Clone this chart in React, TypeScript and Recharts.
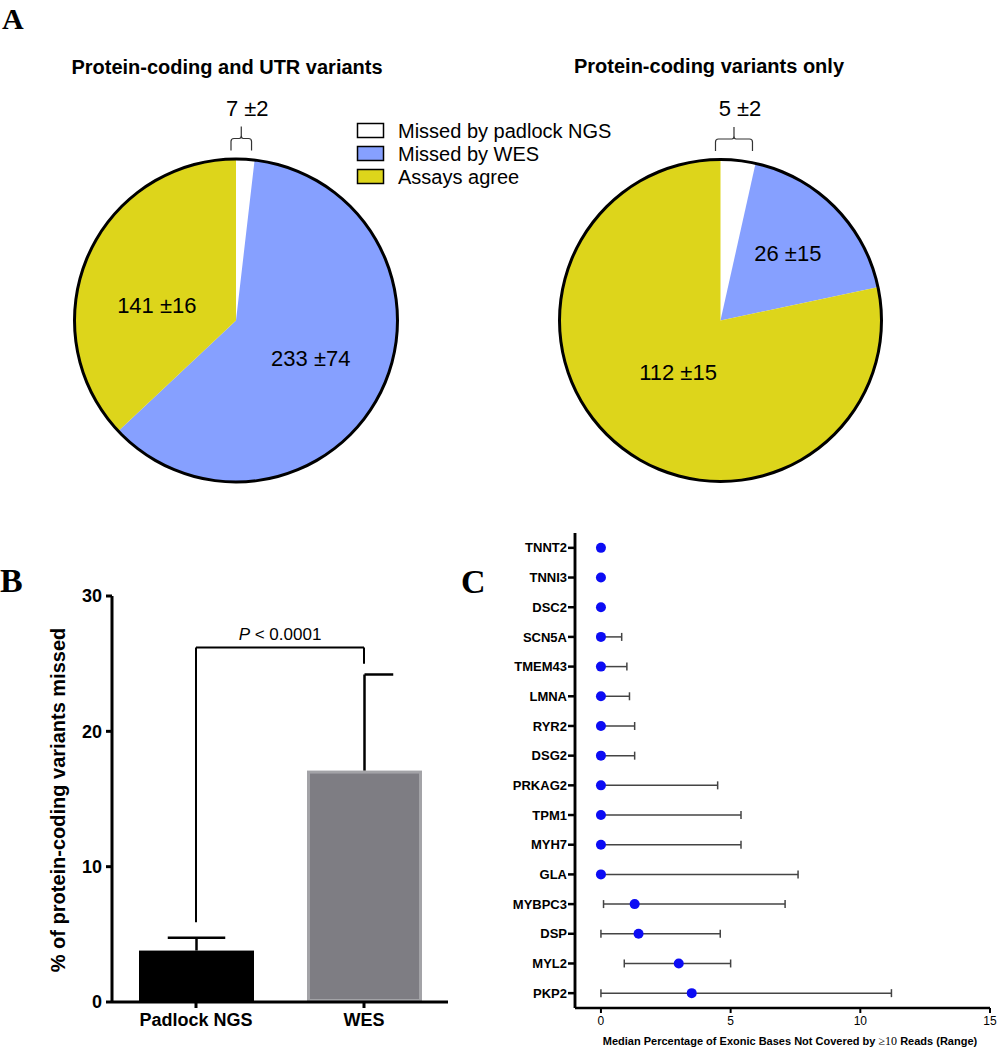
import React from 'react';
import {
  PieChart, Pie, Cell, BarChart, Bar, XAxis, YAxis,
  ScatterChart, Scatter, ErrorBar, ReferenceLine,
} from 'recharts';

const SANS = '"Liberation Sans", Arial, sans-serif';
const SERIF = '"Liberation Serif", "Times New Roman", serif';

// Panel A – pies
const sliceNames = ['Missed by padlock NGS', 'Missed by WES', 'Assays agree'];
const sliceColors = ['#ffffff', '#86a0ff', '#ddd51b'];
const utrMeans = [7, 233, 141];
const utrSd = [2, 74, 16];
const codingMeans = [5, 26, 112];
const codingSd = [2, 15, 15];

// Panel B – bars
const assays = ['Padlock NGS', 'WES'];
const pctMissed = [3.8, 17.1];
const pctMissedErr = [0.95, 7.1];
const bracketLevels = [5.9, 26.2, 25];

// Panel C – coverage
const genes = ['TNNT2', 'TNNI3', 'DSC2', 'SCN5A', 'TMEM43', 'LMNA', 'RYR2', 'DSG2',
  'PRKAG2', 'TPM1', 'MYH7', 'GLA', 'MYBPC3', 'DSP', 'MYL2', 'PKP2'];
const medians = [0, 0, 0, 0, 0, 0, 0, 0, 0, 0, 0, 0, 1.3, 1.45, 3.0, 3.5];
const rangeMin = [0, 0, 0, 0, 0, 0, 0, 0, 0, 0, 0, 0, 0.1, 0, 0.9, 0];
const rangeMax = [0, 0, 0, 0.8, 1.0, 1.1, 1.3, 1.3, 4.5, 5.4, 5.4, 7.6, 7.1, 4.6, 5.0, 11.2];

const utrData = sliceNames.map((name, i) => ({ name, value: utrMeans[i], sd: utrSd[i] }));
const codingData = sliceNames.map((name, i) => ({ name, value: codingMeans[i], sd: codingSd[i] }));
const barData = assays.map((name, i) => ({ name, value: pctMissed[i], err: pctMissedErr[i] }));
const coverageData = genes.map((gene, i) => ({
  gene,
  median: medians[i],
  range: [medians[i] - rangeMin[i], rangeMax[i] - medians[i]],
}));

const PIE1 = { cx: 231, cy: 315.5, r: 161 };
const PIE2 = { cx: 715.5, cy: 315.5, r: 160.5 };
const RAD = Math.PI / 180;

const makePieLabel = (radiusFrac: number[], angleShift: number[]) => (props: any) => {
  const { cx, cy, midAngle, outerRadius, index, payload } = props;
  if (index === 0) return null;
  const r = outerRadius * radiusFrac[index];
  const a = midAngle + angleShift[index];
  const x = cx + r * Math.cos(-a * RAD);
  const y = cy + r * Math.sin(-a * RAD);
  const p = payload && payload.payload ? payload.payload : payload;
  return (
    <text x={x} y={y} textAnchor="middle" dominantBaseline="central"
      fontFamily={SANS} fontSize={22} fill="#000">
      {`${p.value} \u00b1${p.sd}`}
    </text>
  );
};

const Brace = ({ pie, values, sd }: { pie: typeof PIE1; values: number[]; sd: number }) => {
  const total = values.reduce((a, b) => a + b, 0);
  const ang = (values[0] / total) * 360 * RAD;
  const x1 = pie.cx;
  const x2 = pie.cx + pie.r * Math.sin(ang) + 2;
  const xm = (x1 + x2) / 2;
  const yb = pie.cy - pie.r - 4;
  const ym = yb - 12;
  const yt = ym - 12;
  const d = `M${x1},${yb} V${ym + 3} Q${x1},${ym} ${x1 + 3},${ym} H${xm - 2} Q${xm},${ym} ${xm},${ym - 3} V${yt}` +
    ` M${xm},${ym - 3} Q${xm},${ym} ${xm + 2},${ym} H${x2 - 3} Q${x2},${ym} ${x2},${ym + 3} V${yb}`;
  return (
    <g>
      <path d={d} fill="none" stroke="#333" strokeWidth={1.2} />
      <text x={xm + 6} y={yt - 11} textAnchor="middle" fontFamily={SANS} fontSize={22} fill="#000">
        {`${values[0]} \u00b1${sd}`}
      </text>
    </g>
  );
};

const barFills = ['#000000', '#7e7d83'];
const barStrokes = ['none', '#a3a3a7'];
const capSides = ['both', 'right'];

const BarWithError = (props: any) => {
  const { x, y, width, height, payload } = props;
  const i = assays.indexOf(payload.name);
  const unit = height / payload.value;
  const errY = y - payload.err * unit;
  const cx = x + width / 2;
  const capL = capSides[i] === 'both' ? cx - width / 4 : cx;
  const capR = cx + width / 4;
  return (
    <g>
      {barStrokes[i] === 'none' ? (
        <rect x={x} y={y} width={width} height={height} fill={barFills[i]} />
      ) : (
        <rect x={x + 1.5} y={y + 1.5} width={width - 3} height={height - 3}
          fill={barFills[i]} stroke={barStrokes[i]} strokeWidth={3} />
      )}
      <line x1={cx} x2={cx} y1={y} y2={errY} stroke="#000" strokeWidth={2.5} />
      <line x1={capL} x2={capR} y1={errY} y2={errY} stroke="#000" strokeWidth={2.5} />
    </g>
  );
};

const PLabel = (props: any) => {
  const vb = props.viewBox || {};
  const x = (vb.x || 0) + (vb.width || 0) / 2;
  const y = (vb.y || 0) - 7;
  return (
    <text x={x} y={y} textAnchor="middle" fontFamily={SANS} fontSize={17} fill="#000">
      <tspan fontStyle="italic">P</tspan>
      <tspan> &lt; 0.0001</tspan>
    </text>
  );
};

const Dot = (props: any) => <circle cx={props.cx} cy={props.cy} r={5} fill="#0c0cf4" />;

export default function App() {
  return (
    <div style={{ position: 'absolute', left: 0, top: 0, width: 1002, height: 1050, background: '#fff', overflow: 'hidden' }}>
      <div style={{ position: 'absolute', left: 0, top: 0 }}>
        <PieChart width={1002} height={520}>
          <Pie data={utrData} dataKey="value" nameKey="name" cx={PIE1.cx} cy={PIE1.cy} outerRadius={PIE1.r}
            startAngle={90} endAngle={-270} stroke="none" isAnimationActive={false}
            label={makePieLabel([0, 0.52, 0.5], [0, 0, 13])} labelLine={false}>
            {utrData.map((d, i) => <Cell key={d.name} fill={sliceColors[i]} />)}
          </Pie>
          <Pie data={[{ value: 1 }]} dataKey="value" cx={PIE1.cx} cy={PIE1.cy}
            innerRadius={PIE1.r - 1} outerRadius={PIE1.r + 2} startAngle={90} endAngle={-270}
            fill="#000" stroke="none" isAnimationActive={false} />
          <Pie data={codingData} dataKey="value" nameKey="name" cx={PIE2.cx} cy={PIE2.cy} outerRadius={PIE2.r}
            startAngle={90} endAngle={-270} stroke="none" isAnimationActive={false}
            label={makePieLabel([0, 0.59, 0.42], [0, 0, 0])} labelLine={false}>
            {codingData.map((d, i) => <Cell key={d.name} fill={sliceColors[i]} />)}
          </Pie>
          <Pie data={[{ value: 1 }]} dataKey="value" cx={PIE2.cx} cy={PIE2.cy}
            innerRadius={PIE2.r - 1} outerRadius={PIE2.r + 2} startAngle={90} endAngle={-270}
            fill="#000" stroke="none" isAnimationActive={false} />
        </PieChart>
      </div>

      <div style={{ position: 'absolute', left: 0, top: 560 }}>
        <BarChart width={480} height={490} data={barData} barSize={115}
          margin={{ top: 36, right: 32, bottom: 18, left: 52 }}>
          <XAxis dataKey="name" height={30} tickSize={6} tickMargin={5}
            axisLine={{ stroke: '#000', strokeWidth: 3 }} tickLine={{ stroke: '#000', strokeWidth: 3 }}
            tick={{ fill: '#000', fontSize: 18, fontWeight: 700, fontFamily: SANS }} />
          <YAxis domain={[0, 30]} ticks={[0, 10, 20, 30]} width={60} tickSize={6} tickMargin={4}
            axisLine={{ stroke: '#000', strokeWidth: 3 }} tickLine={{ stroke: '#000', strokeWidth: 3 }}
            tick={{ fill: '#000', fontSize: 18, fontWeight: 700, fontFamily: SANS }} />
          <Bar dataKey="value" shape={BarWithError} isAnimationActive={false} />
          <ReferenceLine segment={[{ x: assays[0], y: bracketLevels[0] }, { x: assays[0], y: bracketLevels[1] }]}
            stroke="#000" strokeWidth={2} />
          <ReferenceLine segment={[{ x: assays[0], y: bracketLevels[1] }, { x: assays[1], y: bracketLevels[1] }]}
            stroke="#000" strokeWidth={2} label={PLabel} />
          <ReferenceLine segment={[{ x: assays[1], y: bracketLevels[1] }, { x: assays[1], y: bracketLevels[2] }]}
            stroke="#000" strokeWidth={2} />
        </BarChart>
      </div>

      <div style={{ position: 'absolute', left: 480, top: 520 }}>
        <ScatterChart width={522} height={530} margin={{ top: 13, right: 12, bottom: 12, left: 0 }}>
          <XAxis type="number" dataKey="median" domain={[-1, 15]} ticks={[0, 5, 10, 15]} height={30}
            tickSize={5} tickMargin={3} allowDataOverflow
            axisLine={{ stroke: '#000', strokeWidth: 2.5 }} tickLine={{ stroke: '#000', strokeWidth: 2 }}
            tick={{ fill: '#000', fontSize: 12, fontFamily: SANS }} />
          <YAxis type="category" dataKey="gene" width={95} tickSize={7} tickMargin={1} reversed
            axisLine={{ stroke: '#000', strokeWidth: 2.5 }} tickLine={{ stroke: '#000', strokeWidth: 2.5 }}
            tick={{ fill: '#000', fontSize: 13, fontWeight: 700, fontFamily: SANS }} />
          <ReferenceLine x={-1} stroke="#000" strokeWidth={2.5} />
          <Scatter data={coverageData} shape={Dot} isAnimationActive={false}>
            <ErrorBar dataKey="range" direction="x" width={4} stroke="#444" strokeWidth={1.5} />
          </Scatter>
        </ScatterChart>
      </div>

      <svg width={1002} height={1050} style={{ position: 'absolute', left: 0, top: 0, pointerEvents: 'none' }}>
        <text x={2} y={29} fontFamily={SERIF} fontWeight={700} fontSize={30} fill="#000">A</text>
        <text x={0} y={592} fontFamily={SERIF} fontWeight={700} fontSize={34} fill="#000">B</text>
        <text x={461} y={593} fontFamily={SERIF} fontWeight={700} fontSize={34} fill="#000">C</text>

        <text x={227} y={74} textAnchor="middle" fontFamily={SANS} fontWeight={700} fontSize={20} fill="#000">
          Protein-coding and UTR variants
        </text>
        <text x={709} y={73} textAnchor="middle" fontFamily={SANS} fontWeight={700} fontSize={20} fill="#000">
          Protein-coding variants only
        </text>

        <Brace pie={PIE1} values={utrMeans} sd={utrSd[0]} />
        <Brace pie={PIE2} values={codingMeans} sd={codingSd[0]} />

        {sliceNames.map((name, i) => (
          <g key={name}>
            <rect x={357.5} y={123.5 + i * 23} width={26} height={14} fill={sliceColors[i]} stroke="#000" strokeWidth={1.5} />
            <text x={398} y={130.5 + i * 23} dominantBaseline="central" fontFamily={SANS} fontSize={20} fill="#000">{name}</text>
          </g>
        ))}

        <text transform="translate(65,800) rotate(-90)" textAnchor="middle" fontFamily={SANS}
          fontWeight={700} fontSize={20} fill="#000">
          % of protein-coding variants missed
        </text>

        <text x={790} y={1045} textAnchor="middle" fontFamily={SANS} fontWeight={700} fontSize={11} fill="#000">
          Median Percentage of Exonic Bases Not Covered by{' '}
          <tspan fontFamily={SERIF} fontWeight={400} fontSize={12} fill="#000">{'\u226510'}</tspan>
          {' '}Reads (Range)
        </text>
      </svg>
    </div>
  );
}
